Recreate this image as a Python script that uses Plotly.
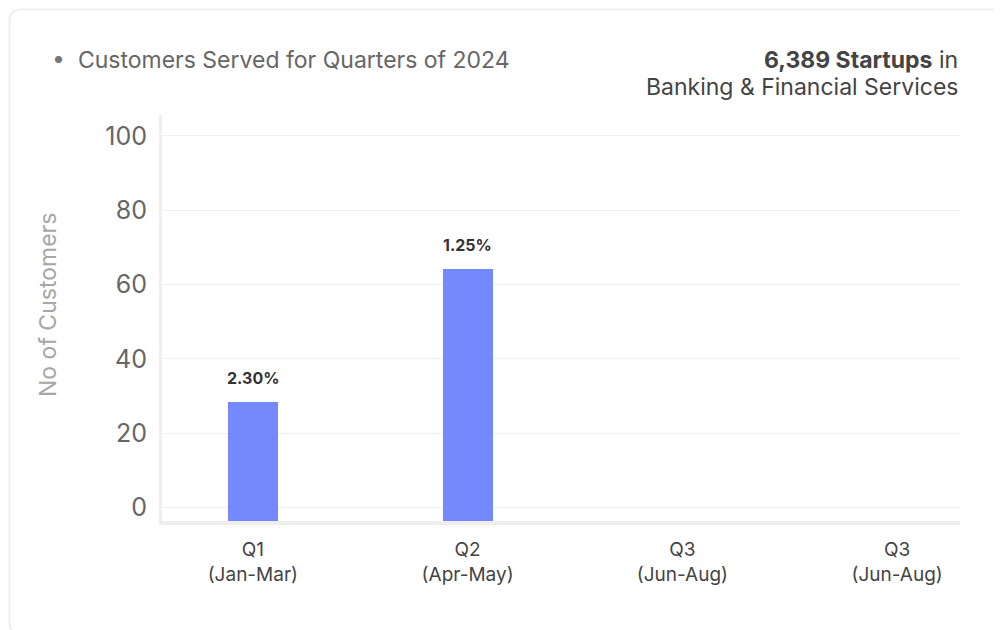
import plotly.graph_objects as go

# ---- data ----
quarters = ["Q1<br>(Jan-Mar)", "Q2<br>(Apr-May)", "Q3<br>(Jun-Aug)", "Q3<br>(Jun-Aug)"]
customers = [28.4, 64.2, None, None]
pct_labels = ["2.30%", "1.25%", "", ""]
y_ticks = [0, 20, 40, 60, 80, 100]

W, H = 1002, 630
OFF = 8  # page body margin compensation
ML, MT = 162 - OFF, 115 - OFF
PW, PH = 798, 406
MR, MB = W - ML - PW, H - MT - PH
Y_MIN, Y_MAX = -3.6, 105.6
FONT = "Inter, Roboto, sans-serif"
BAR_COLOR = "#7589fe"


def px(x):
    return (x - OFF - ML) / PW


def py(y):
    return (H - MB - (y - OFF)) / PH


xs = list(range(len(quarters)))
bar_x = [x for x, v in zip(xs, customers) if v is not None]
bar_v = [v for v in customers if v is not None]

fig = go.Figure()
fig.add_trace(go.Bar(
    x=bar_x,
    y=[v - Y_MIN for v in bar_v],
    base=Y_MIN,
    width=0.233,
    marker=dict(color=BAR_COLOR, line=dict(width=0)),
    hoverinfo="skip",
))

annotations = []
for x, v, t in zip(xs, customers, pct_labels):
    if v is None or not t:
        continue
    annotations.append(dict(
        x=x, y=v, xref="x", yref="y", text=t, showarrow=False,
        yanchor="middle", yshift=24,
        font=dict(family=FONT, size=16, color="#333333", weight="bold"),
    ))

# header texts
annotations.append(dict(
    x=px(50), y=py(60), xref="paper", yref="paper", xanchor="left", yanchor="middle",
    text="<span style='color:#777777'>•</span>  Customers Served for Quarters of 2024",
    showarrow=False, font=dict(family=FONT, size=23, color="#666666"),
))
annotations.append(dict(
    x=px(960), y=py(60), xref="paper", yref="paper", xanchor="right", yanchor="middle",
    text="<b>6,389 Startups</b> in",
    showarrow=False, font=dict(family=FONT, size=23, color="#444444"),
))
annotations.append(dict(
    x=px(960), y=py(87), xref="paper", yref="paper", xanchor="right", yanchor="middle",
    text="Banking & Financial Services",
    showarrow=False, font=dict(family=FONT, size=23, color="#444444"),
))
# y-axis title
annotations.append(dict(
    x=px(48), y=py(305), xref="paper", yref="paper", xanchor="center", yanchor="middle",
    text="No of Customers", textangle=-90, showarrow=False,
    font=dict(family=FONT, size=23, color="#a6a6a6"),
))

# card border (rounded rectangle) in paper coordinates
x0, y0, x1, y1 = px(9.5), py(634), px(1030), py(9.5)
rx, ry = 12 / PW, 12 / PH
card_path = (
    f"M {x0 + rx},{y1} L {x1},{y1} L {x1},{y0} L {x0 + rx},{y0} "
    f"Q {x0},{y0} {x0},{y0 + ry} L {x0},{y1 - ry} Q {x0},{y1} {x0 + rx},{y1} Z"
)

fig.update_layout(
    width=W, height=H,
    margin=dict(l=ML, r=MR, t=MT, b=MB, pad=0),
    paper_bgcolor="white", plot_bgcolor="white",
    showlegend=False,
    bargap=0,
    annotations=annotations,
    shapes=[dict(type="path", path=card_path, xref="paper", yref="paper",
                 line=dict(color="#efefef", width=2), fillcolor="rgba(0,0,0,0)",
                 layer="below")],
    xaxis=dict(
        range=[-0.423, 3.293],
        tickvals=xs, ticktext=quarters,
        showgrid=False, zeroline=False,
        showline=True, linecolor="#eeeeee", linewidth=4,
        ticks="", ticklabelstandoff=8,
        tickfont=dict(family=FONT, size=19, color="#444444"),
    ),
    yaxis=dict(
        range=[Y_MIN, Y_MAX],
        tickvals=y_ticks,
        showgrid=True, gridcolor="#f0f0f0", gridwidth=1,
        zeroline=False,
        showline=True, linecolor="#eeeeee", linewidth=3,
        ticks="", ticklabelstandoff=7,
        tickfont=dict(family=FONT, size=25, color="#666666"),
    ),
)

fig.write_html("out.html")
